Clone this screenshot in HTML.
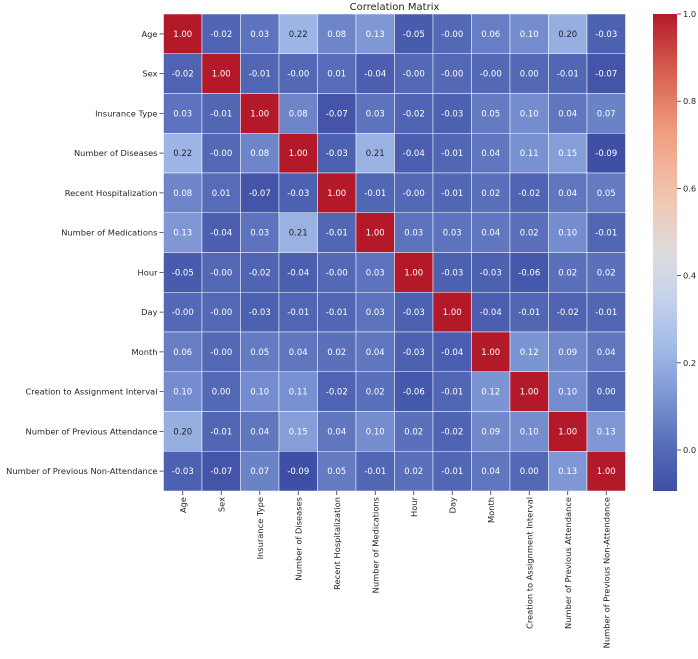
<!DOCTYPE html>
<html><head><meta charset="utf-8"><style>
body{margin:0;background:#fff;font-family:"DejaVu Sans","Liberation Sans",sans-serif;}
svg text{font-family:"DejaVu Sans","Liberation Sans",sans-serif;}
</style></head><body>
<svg id="chart" width="698" height="655" xmlns="http://www.w3.org/2000/svg">
<defs><linearGradient id="cbg" x1="0" y1="1" x2="0" y2="0"></linearGradient></defs>
<text x="394.5" y="10" font-size="10" text-anchor="middle" fill="#262626">Correlation Matrix</text>
<g id="cells"></g><g id="ylab"></g><g id="xlab"></g><g id="cbar"></g>
</svg>
<script>
const labels = ["Age","Sex","Insurance Type","Number of Diseases","Recent Hospitalization","Number of Medications","Hour","Day","Month","Creation to Assignment Interval","Number of Previous Attendance","Number of Previous Non-Attendance"];
const matrix = [
[1.00,-0.02,0.03,0.22,0.08,0.13,-0.05,-0.00,0.06,0.10,0.20,-0.03],
[-0.02,1.00,-0.01,-0.00,0.01,-0.04,-0.00,-0.00,-0.00,0.00,-0.01,-0.07],
[0.03,-0.01,1.00,0.08,-0.07,0.03,-0.02,-0.03,0.05,0.10,0.04,0.07],
[0.22,-0.00,0.08,1.00,-0.03,0.21,-0.04,-0.01,0.04,0.11,0.15,-0.09],
[0.08,0.01,-0.07,-0.03,1.00,-0.01,-0.00,-0.01,0.02,-0.02,0.04,0.05],
[0.13,-0.04,0.03,0.21,-0.01,1.00,0.03,0.03,0.04,0.02,0.10,-0.01],
[-0.05,-0.00,-0.02,-0.04,-0.00,0.03,1.00,-0.03,-0.03,-0.06,0.02,0.02],
[-0.00,-0.00,-0.03,-0.01,-0.01,0.03,-0.03,1.00,-0.04,-0.01,-0.02,-0.01],
[0.06,-0.00,0.05,0.04,0.02,0.04,-0.03,-0.04,1.00,0.12,0.09,0.04],
[0.10,0.00,0.10,0.11,-0.02,0.02,-0.06,-0.01,0.12,1.00,0.10,0.00],
[0.20,-0.01,0.04,0.15,0.04,0.10,0.02,-0.02,0.09,0.10,1.00,0.13],
[-0.03,-0.07,0.07,-0.09,0.05,-0.01,0.02,-0.01,0.04,0.00,0.13,1.00]];
const cbTicks = [0.0,0.2,0.4,0.6,0.8,1.0];
const vmin=-0.094, vmax=1.0;
const L=163.5, T=14, CW=38.5, CH=39.75, N=labels.length;
const stops=[[0,[62,78,165]],[0.1,[88,110,185]],[0.2,[125,150,212]],[0.3,[162,186,230]],[0.4,[196,209,236]],[0.5,[221,220,220]],[0.625,[243,196,173]],[0.75,[240,158,128]],[0.875,[218,98,80]],[1,[180,25,42]]];
function cmap(t){t=Math.max(0,Math.min(1,t));for(let i=1;i<stops.length;i++){if(t<=stops[i][0]){const a=stops[i-1],b=stops[i],f=(t-a[0])/(b[0]-a[0]);return a[1].map((v,k)=>Math.round(v+(b[1][k]-v)*f));}}return stops[stops.length-1][1];}
const NS="http://www.w3.org/2000/svg";
function mk(tag,attrs,parent){const e=document.createElementNS(NS,tag);for(const k in attrs)e.setAttribute(k,attrs[k]);parent.appendChild(e);return e;}
function fmt(v){return (Object.is(v,-0)?'-':'')+v.toFixed(2);}
const cells=document.getElementById('cells'),ylab=document.getElementById('ylab'),xlab=document.getElementById('xlab'),cbar=document.getElementById('cbar');
const xPos=j=>L+j*CW, yPos=i=>T+i*CH;
matrix.forEach((row,i)=>row.forEach((v,j)=>{
 const c=cmap((v-vmin)/(vmax-vmin));
 const r=mk('rect',{x:xPos(j),y:yPos(i),width:CW,height:CH,fill:`rgb(${c})`,stroke:'#fff','stroke-width':0.5},cells);
 
 
 const lum=(0.299*c[0]+0.587*c[1]+0.114*c[2]);
 const t=mk('text',{x:xPos(j)+CW/2,y:yPos(i)+CH/2+3,'font-size':8.5,'text-anchor':'middle',fill:lum>165?'#262626':'#fff'},cells);
 
 
 t.textContent=fmt(v);
}));
labels.forEach((lab,i)=>{
 const y=yPos(i)+CH/2;
 mk('line',{x1:L-4,x2:L,y1:y,y2:y,stroke:'#333','stroke-width':0.8},ylab);
 const t=mk('text',{x:L-6,y:y+3,'font-size':8.3,'text-anchor':'end',fill:'#262626'},ylab);
 
 
 t.textContent=lab;
 const x=xPos(i)+CW/2, b=T+N*CH;
 mk('line',{x1:x,x2:x,y1:b,y2:b+4,stroke:'#333','stroke-width':0.8},xlab);
 const u=mk('text',{x:0,y:0,'font-size':8.3,'text-anchor':'end',fill:'#262626',transform:`translate(${x+3},${b+6}) rotate(-90)`},xlab);
 
 
 u.textContent=lab;
});
const CBX=653,CBW=24,CBT=14,CBB=491;
const cy=v=>CBB-(v-vmin)/(vmax-vmin)*(CBB-CBT);
const g=document.getElementById('cbg');
for(let k=0;k<=20;k++){mk('stop',{offset:k/20,'stop-color':`rgb(${cmap(k/20)})`},g);}
const cb=mk('rect',{x:CBX,y:CBT,width:CBW,height:CBB-CBT,fill:'url(#cbg)'},cbar);


cbTicks.forEach(v=>{
 const y=cy(v);
 mk('line',{x1:CBX+CBW,x2:CBX+CBW+4,y1:y,y2:y,stroke:'#333','stroke-width':0.8},cbar);
 const t=mk('text',{x:CBX+CBW+6,y:y+3,'font-size':8.3,fill:'#262626'},cbar);
 
 
 t.textContent=v.toFixed(1);
});
</script>
</body></html>
